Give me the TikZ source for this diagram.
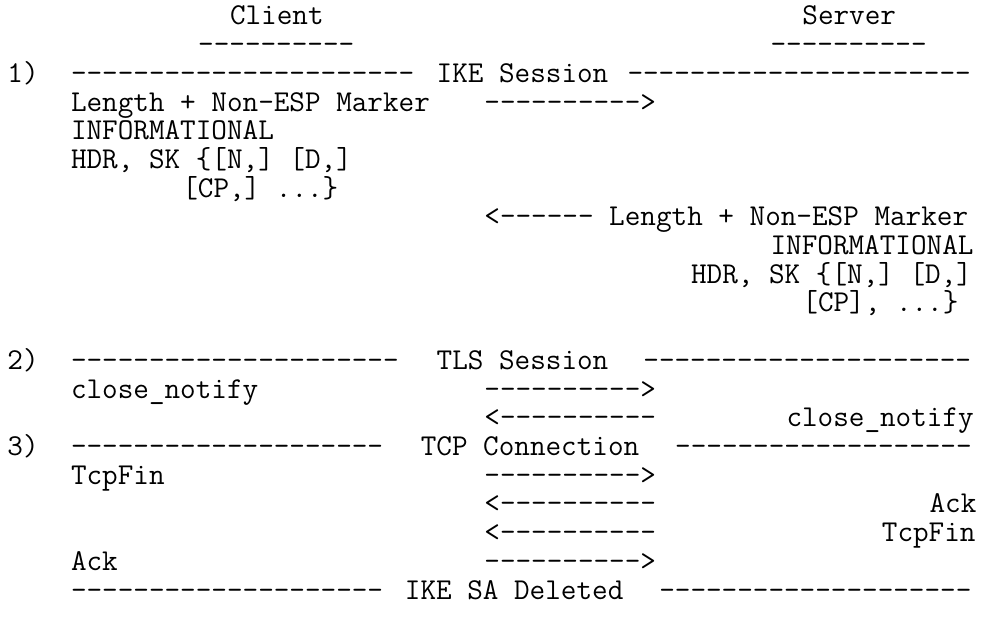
\documentclass[tikz,border=0pt]{standalone}
\usepackage{fontspec}
\setmonofont{Latin Modern Mono}
\tikzset{txt/.style={anchor=base west, inner sep=0pt, outer sep=0pt, text=black,
  font=\ttfamily\fontsize{30.3}{28.7}\selectfont}}
\newcommand\seg[4]{\node[txt] (#1) at ({7.4+#2*15.9},{25+(#3-1)*28.7}) {#4};}
\begin{document}
\begin{tikzpicture}[x=1pt,y=-1pt]
\fill[white] (0,0) rectangle (988,617);
\useasboundingbox (0,0) rectangle (988,617);
\seg{client}{14}{1}{Client}
\seg{server}{50}{1}{Server}
\seg{cul}{12}{2}{----------}
\seg{sul}{48}{2}{----------}
\seg{s1}{0}{3}{1)}
\seg{s1a}{4}{3}{----------------------}
\seg{s1t}{27}{3}{IKE Session}
\seg{s1b}{39}{3}{----------------------}
\seg{m1}{4}{4}{Length + Non-ESP Marker}
\seg{a1}{30}{4}{---------->}
\seg{m1b}{4}{5}{INFORMATIONAL}
\seg{m1c}{4}{6}{HDR, SK \{[N,] [D,]}
\seg{m1d}{11}{7}{[CP,] ...\}}
\seg{a2}{30}{8}{<------ Length + Non-ESP Marker}
\seg{m2b}{48}{9}{INFORMATIONAL}
\seg{m2c}{43}{10}{HDR, SK \{[N,] [D,]}
\seg{m2d}{50}{11}{[CP], ...\}}
\seg{s2}{0}{13}{2)}
\seg{s2a}{4}{13}{---------------------}
\seg{s2t}{27}{13}{TLS Session}
\seg{s2b}{40}{13}{---------------------}
\seg{c1}{4}{14}{close\_notify}
\seg{a3}{30}{14}{---------->}
\seg{a4}{30}{15}{<----------}
\seg{c2}{49}{15}{close\_notify}
\seg{s3}{0}{16}{3)}
\seg{s3a}{4}{16}{--------------------}
\seg{s3t}{26}{16}{TCP Connection}
\seg{s3b}{42}{16}{-------------------}
\seg{f1}{4}{17}{TcpFin}
\seg{a5}{30}{17}{---------->}
\seg{a6}{30}{18}{<----------}
\seg{k1}{58}{18}{Ack}
\seg{a7}{30}{19}{<----------}
\seg{f2}{55}{19}{TcpFin}
\seg{k2}{4}{20}{Ack}
\seg{a8}{30}{20}{---------->}
\seg{s4a}{4}{21}{--------------------}
\seg{s4t}{25}{21}{IKE SA Deleted}
\seg{s4b}{41}{21}{--------------------}
\end{tikzpicture}
\end{document}
